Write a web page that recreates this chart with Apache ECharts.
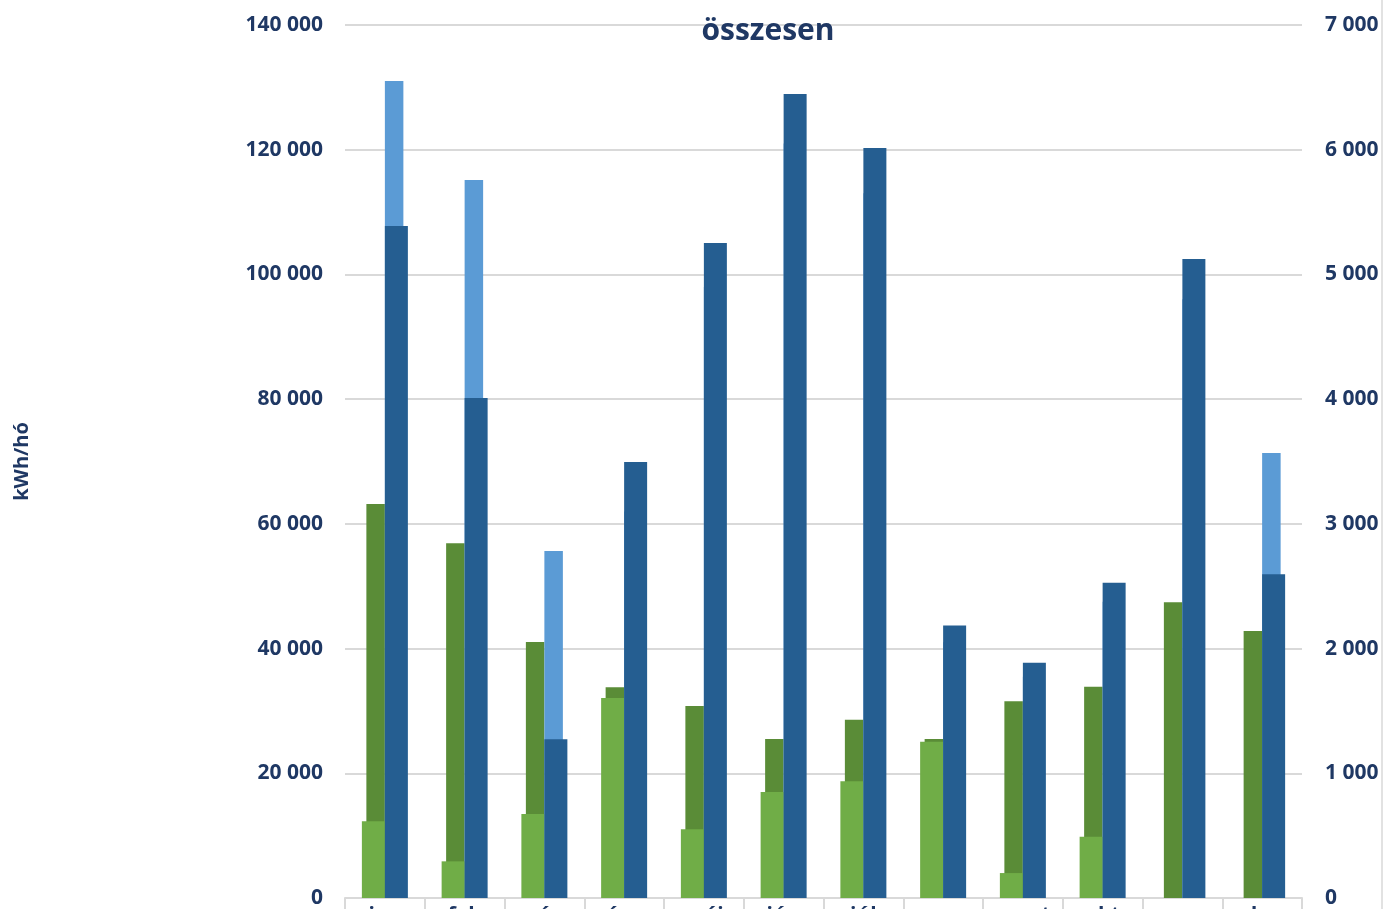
<!DOCTYPE html>
<html>
<head>
<meta charset="utf-8">
<script src="https://cdn.jsdelivr.net/npm/echarts@6/dist/echarts.min.js"></script>
<style>
html,body{margin:0;padding:0;background:#fff;}
#c{width:1384px;height:909px;}
</style>
</head>
<body>
<div id="c"></div>
<script>
const categories = ['jan', 'feb', 'márc', 'ápr', 'máj', 'jún', 'júl', 'aug', 'szept', 'okt', 'nov', 'dec'];
// left axis (kWh/hó), drawn behind
const darkGreen = [63190, 56880, 41060, 33790, 30790, 25500, 28600, 25500, 31540, 33890, 47420, 42820];
const lightBlue = [131000, 115150, 55650, 62000, 98000, 121000, 113000, 41000, 35500, 47500, 96000, 71360];
// right axis, drawn in front
const lightGreen = [615, 294, 673, 1604, 551, 850, 936, 1253, 200, 492, 0, 0];
const darkBlue = [5389, 4009, 1272, 3496, 5252, 6447, 6014, 2184, 1887, 2528, 5124, 2596];
const leftTicks = [0, 20000, 40000, 60000, 80000, 100000, 120000, 140000];
const rightTicks = [0, 1000, 2000, 3000, 4000, 5000, 6000, 7000];

const navy = '#1F3864';
const font = '"Open Sans", "Liberation Sans", sans-serif';
const fmt = v => String(v).replace(/\B(?=(\d{3})+(?!\d))/g, ' ');

const chart = echarts.init(document.getElementById('c'));
chart.setOption({
  animation: false,
  backgroundColor: '#ffffff',
  title: {
    text: 'összesen',
    left: 763, top: 11, textAlign: 'center',
    textStyle: {color: navy, fontSize: 30, fontWeight: 'bold', fontFamily: font}
  },
  grid: {left: 345, right: 82, top: 25, bottom: 11, containLabel: false, outerBoundsMode: 'none'},
  xAxis: [
    {
      type: 'category', data: categories, boundaryGap: true,
      axisLine: {show: true, lineStyle: {color: '#D9D9D9', width: 2}},
      axisTick: {show: true, length: 14, lineStyle: {color: '#D9D9D9', width: 2}},
      axisLabel: {color: navy, fontSize: 21, fontWeight: 'bold', fontFamily: font, margin: 8}
    },
    {
      type: 'category', data: categories, show: false, position: 'bottom'
    }
  ],
  yAxis: [
    {
      type: 'value', min: 0, max: leftTicks[leftTicks.length - 1], interval: leftTicks[1] - leftTicks[0],
      name: 'kWh/hó', nameLocation: 'middle', nameGap: 313, nameRotate: 90,
      nameTextStyle: {color: navy, fontSize: 20, fontWeight: 'bold', fontFamily: font},
      axisLine: {show: false}, axisTick: {show: false},
      axisLabel: {color: navy, fontSize: 21, fontWeight: 'bold', fontFamily: font, margin: 22, formatter: fmt},
      splitLine: {show: true, lineStyle: {color: '#D9D9D9', width: 2}}
    },
    {
      type: 'value', min: 0, max: rightTicks[rightTicks.length - 1], interval: rightTicks[1] - rightTicks[0],
      position: 'right',
      axisLine: {show: false}, axisTick: {show: false},
      axisLabel: {color: navy, fontSize: 21, fontWeight: 'bold', fontFamily: font, margin: 23, formatter: fmt},
      splitLine: {show: false}
    }
  ],
  series: [
    {type: 'bar', name: 'dg', xAxisIndex: 1, yAxisIndex: 0, data: darkGreen, barWidth: 18.5, barGap: '0%',
     itemStyle: {color: '#5A8C37'}},
    {type: 'bar', name: 'lb', xAxisIndex: 1, yAxisIndex: 0, data: lightBlue, barWidth: 18.5, barGap: '0%',
     itemStyle: {color: '#5B9BD5'}},
    {type: 'bar', name: 'lg', xAxisIndex: 0, yAxisIndex: 1, data: lightGreen, barWidth: 23, barGap: '0%',
     itemStyle: {color: '#70AD47'}},
    {type: 'bar', name: 'db', xAxisIndex: 0, yAxisIndex: 1, data: darkBlue, barWidth: 23, barGap: '0%',
     itemStyle: {color: '#255E91'}}
  ],
  graphic: [
    {type: 'line', shape: {x1: 1382, y1: 0, x2: 1382, y2: 909}, style: {stroke: '#D9D9D9', lineWidth: 1.5}}
  ]
});
</script>
</body>
</html>
